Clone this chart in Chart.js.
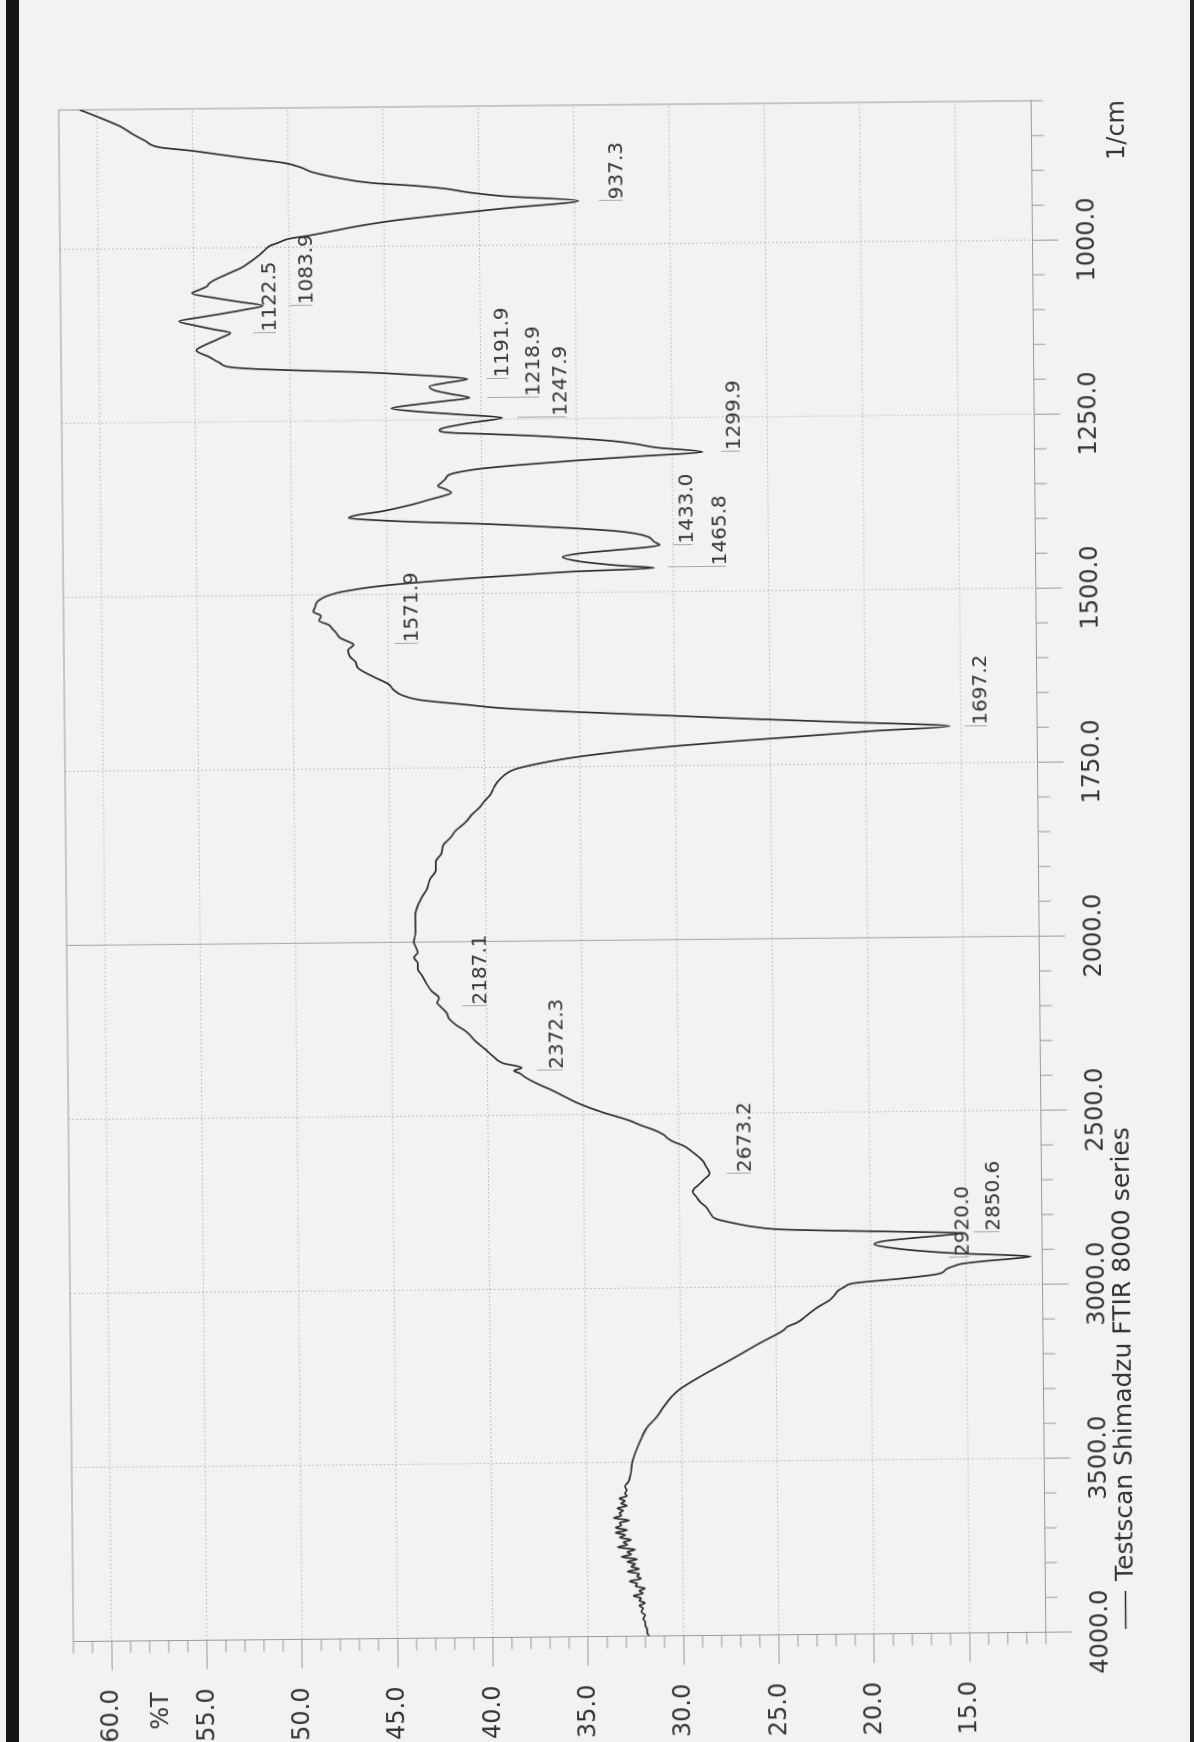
<!DOCTYPE html>
<html>
<head>
<meta charset="utf-8">
<title>FTIR spectrum</title>
<script src="https://cdn.jsdelivr.net/npm/chart.js@4.4.1/dist/chart.umd.min.js"></script>
<style>
  html, body { margin: 0; padding: 0; width: 1194px; height: 1742px; overflow: hidden; background: #f2f2f2; }
  /* the sheet is printed landscape and viewed turned onto its side */
  #sheet { position: absolute; left: -274px; top: 274px; width: 1742px; height: 1194px;
           transform-origin: 50% 50%; transform: rotate(-90.55deg); }
  #sheet canvas { display: block; }
  #edgeL { position: absolute; left: 6px; top: 0; width: 13px; height: 1742px; background: #151515; }
  #edgeR { position: absolute; left: 1190px; top: 0; width: 4px; height: 1742px; background: #202020; }
</style>
</head>
<body>
<div id="sheet"><canvas id="ftir" width="1742" height="1194" style="width:1742px;height:1194px"></canvas></div>
<div id="edgeL"></div>
<div id="edgeR"></div>
<script>
// Wavenumber (1/cm) and transmittance (%T) of the trace, high to low wavenumber
const wavenumber = [
  4000, 3990, 3980, 3970, 3960, 3950, 3940, 3930, 3920, 3912,
  3905, 3898, 3891, 3884, 3877, 3870, 3863, 3856, 3849, 3842,
  3835, 3828, 3821, 3814, 3807, 3800, 3793, 3786, 3779, 3772,
  3765, 3758, 3751, 3744, 3737, 3730, 3723, 3716, 3709, 3702,
  3695, 3688, 3681, 3674, 3667, 3660, 3653, 3646, 3639, 3632,
  3625, 3618, 3611, 3604, 3597, 3590, 3580, 3570, 3555, 3536,
  3500, 3468, 3430, 3400, 3371, 3340, 3313, 3293, 3250, 3206,
  3160, 3125, 3115, 3104, 3080, 3060, 3041, 3025, 3012, 3003,
  2992, 2980, 2968, 2953, 2945, 2939, 2932, 2926, 2920.0, 2915,
  2910, 2900, 2890, 2881, 2872, 2864, 2857, 2850.6, 2846, 2841,
  2836, 2828, 2818, 2803, 2785, 2769, 2755, 2740, 2725, 2715,
  2706, 2690, 2673.2, 2660, 2652, 2640, 2628, 2610, 2594, 2580,
  2570, 2560, 2546, 2532, 2518, 2494, 2469, 2450, 2430, 2410,
  2392, 2380, 2372.3, 2364, 2350, 2330, 2310, 2287, 2258, 2240,
  2220, 2205, 2187.1, 2175, 2162, 2140, 2115, 2095, 2077, 2060,
  2044, 2030, 2014, 2000, 1986, 1962, 1938, 1925, 1909, 1897,
  1885, 1873, 1861, 1850, 1842, 1828, 1818, 1808, 1798, 1789,
  1778, 1770, 1760, 1753, 1746, 1738, 1730, 1722, 1716, 1710,
  1703, 1697.2, 1690, 1684, 1678, 1672, 1665, 1660, 1652, 1645,
  1638, 1629, 1618, 1605, 1597, 1589, 1580, 1571.9, 1566, 1562,
  1555, 1549, 1543, 1537, 1530, 1524, 1517, 1510, 1503, 1497,
  1494, 1490, 1486, 1482, 1478, 1474, 1470, 1465.8, 1462, 1458,
  1455, 1449, 1444, 1440, 1436, 1433.0, 1428, 1421, 1416, 1412,
  1407, 1403, 1400, 1397, 1393, 1390, 1386, 1381, 1376, 1371,
  1365, 1360, 1355, 1350, 1345, 1340, 1335, 1329, 1325, 1321,
  1316, 1310, 1305, 1299.9, 1293, 1287, 1283, 1278, 1274, 1271,
  1269, 1265, 1262, 1255, 1247.9, 1243, 1238, 1233, 1228, 1223,
  1218.9, 1213, 1208, 1202, 1197, 1191.9, 1188, 1185, 1182, 1180,
  1178, 1175, 1172, 1165, 1157, 1147, 1140, 1133, 1128, 1122.5,
  1117, 1111, 1105, 1100, 1095, 1089, 1083.9, 1078, 1072, 1065,
  1060, 1055, 1051, 1046, 1041, 1035, 1029, 1020, 1012, 1005,
  998, 993, 988, 983, 977, 971, 963, 956, 947, 937.3,
  930, 924, 918, 913, 909, 900, 892, 886, 879, 872,
  866, 860, 855, 845, 836, 824, 812, 802, 800
];
const transmittance = [
  31.8, 31.9, 31.9, 32.0, 32.0, 32.1, 32.0, 32.2, 32.1, 32.3,
  32.0, 32.3, 32.2, 32.6, 32.1, 32.3, 32.0, 32.5, 32.4, 32.8,
  32.2, 32.4, 32.3, 32.9, 32.3, 32.7, 32.5, 32.9, 32.4, 33.2,
  32.7, 32.9, 32.5, 33.4, 32.9, 33.1, 32.7, 33.3, 33.0, 33.5,
  32.9, 33.5, 33.2, 33.3, 32.8, 33.6, 33.2, 33.3, 33.1, 33.4,
  32.9, 33.2, 33.0, 33.3, 32.9, 33.0, 32.9, 33.0, 32.8, 32.7,
  32.6, 32.4, 32.1, 31.8, 31.3, 30.9, 30.5, 30.1, 28.8, 27.3,
  25.8, 24.6, 24.4, 23.9, 23.3, 22.8, 22.2, 21.9, 21.7, 21.4,
  20.9, 18.4, 16.5, 16.0, 15.6, 15.2, 14.0, 12.6, 11.6, 13.0,
  15.2, 17.6, 19.1, 19.8, 19.3, 17.8, 16.2, 15.1, 18.0, 21.5,
  24.5, 26.0, 27.0, 28.1, 28.4, 28.6, 28.9, 29.1, 29.3, 29.2,
  29.0, 28.7, 28.4, 28.5, 28.6, 28.7, 28.9, 29.3, 29.7, 30.3,
  30.6, 30.8, 31.3, 32.0, 32.6, 34.0, 35.2, 35.9, 36.6, 37.4,
  38.0, 38.3, 38.6, 38.2, 39.2, 39.7, 40.1, 40.6, 41.1, 41.6,
  42.0, 42.1, 42.4, 42.6, 42.5, 42.9, 43.2, 43.4, 43.6, 43.6,
  43.8, 43.6, 43.7, 43.8, 43.7, 43.7, 43.4, 43.1, 42.9, 42.6,
  42.6, 42.3, 42.2, 41.8, 41.6, 41.0, 40.7, 40.3, 40.0, 39.7,
  39.5, 39.3, 38.9, 38.4, 37.3, 35.6, 33.2, 30.0, 27.0, 23.5,
  19.6, 15.6, 21.0, 26.0, 30.4, 34.9, 39.1, 40.8, 43.4, 44.3,
  44.7, 45.0, 45.8, 46.6, 46.7, 47.0, 47.1, 46.8, 47.2, 47.5,
  47.7, 47.9, 48.1, 48.6, 48.5, 48.9, 48.8, 48.7, 48.3, 47.6,
  47.0, 46.0, 44.6, 42.7, 40.6, 38.0, 35.3, 31.0, 32.8, 34.2,
  35.0, 35.8, 34.9, 33.2, 31.4, 30.7, 31.0, 31.3, 32.0, 33.1,
  35.6, 38.0, 40.1, 43.0, 45.8, 47.0, 46.6, 45.3, 44.4, 43.6,
  42.8, 42.1, 41.6, 41.9, 42.3, 42.1, 41.9, 41.7, 41.1, 40.1,
  38.0, 34.8, 31.6, 28.4, 30.8, 32.0, 33.1, 35.3, 37.5, 39.8,
  41.5, 42.2, 42.0, 40.6, 38.9, 41.0, 43.3, 44.7, 43.5, 41.8,
  40.6, 41.6, 42.4, 42.7, 41.8, 40.7, 42.0, 43.6, 45.3, 46.8,
  48.8, 51.5, 53.0, 53.7, 54.2, 54.9, 54.5, 53.9, 53.5, 53.1,
  54.0, 55.0, 55.8, 54.8, 53.6, 52.3, 51.4, 52.6, 53.9, 55.1,
  54.7, 54.3, 54.2, 53.9, 53.5, 53.0, 52.5, 52.0, 51.6, 51.3,
  51.0, 50.5, 50.0, 48.8, 47.6, 46.4, 44.4, 42.0, 38.6, 34.8,
  38.6, 40.5, 41.8, 43.6, 45.6, 47.6, 48.8, 49.3, 50.2, 52.1,
  53.6, 55.1, 56.7, 57.5, 58.1, 58.8, 59.8, 60.7, 60.9
];

// Picked peaks
const peakWavenumber = [937.3, 1083.9, 1122.5, 1191.9, 1218.9, 1247.9, 1299.9, 1433.0,
                        1465.8, 1571.9, 1697.2, 2187.1, 2372.3, 2673.2, 2850.6, 2920.0];

// Axis ticks
const waveMajor = [4000, 3500, 3000, 2500, 2000, 1750, 1500, 1250, 1000];
const transMajor = [15, 20, 25, 30, 35, 40, 45, 50, 55, 60];

// Where each peak tag sits, in %T: [top of its leader, top of its digits]
const peakTagPlacement = [
  [33.7, 33.25], [50.0, 49.55], [51.9, 51.5], [39.7, 39.35], [39.65, 37.7], [38.1, 36.3],
  [27.45, 27.2], [30.0, 29.75], [30.25, 28.0], [44.65, 44.2], [14.8, 14.4], [41.3, 40.8],
  [37.4, 36.8], [27.5, 27.0], [14.6, 14.0], [15.9, 15.6]
];

// The printed wavenumber axis runs 4000-2000 at half the scale of 2000-800
function wavePos(w) { return w >= 2000 ? (4000 - w) / 2 : 1000 + (2000 - w); }
function posWave(p) { return p <= 1000 ? 4000 - 2 * p : 2000 - (p - 1000); }

const FONT = '"DejaVu Sans", "Liberation Sans", sans-serif';
const INK = '#343434';
const RULE = '#9a9a9a';

const sheetDecor = {
  id: 'sheetDecor',
  beforeDatasetsDraw(chart) {
    const { ctx, chartArea: a, scales: { x, y } } = chart;
    const seg = (x1, y1, x2, y2) => { ctx.beginPath(); ctx.moveTo(x1, y1); ctx.lineTo(x2, y2); ctx.stroke(); };
    ctx.save();
    ctx.lineWidth = 1;
    ctx.strokeStyle = '#b2b2b2';
    ctx.setLineDash([1.5, 2.5]);
    transMajor.forEach(t => {
      const py = y.getPixelForValue(t);
      seg(a.left, py, a.right, py);
    });
    waveMajor.forEach(w => {
      if (w === 4000 || w === 2000) return;
      const px = x.getPixelForValue(wavePos(w));
      seg(px, a.top, px, a.bottom);
    });
    ctx.setLineDash([]);
    // scale change at 2000 is marked by a solid rule
    ctx.strokeStyle = '#a4a4a4';
    const p2000 = x.getPixelForValue(wavePos(2000));
    seg(p2000, a.top, p2000, a.bottom);
    // frame on the two open sides
    ctx.strokeStyle = RULE;
    seg(a.left, a.top, a.right, a.top);
    seg(a.right, a.top, a.right, a.bottom);
    ctx.restore();
  },
  afterDraw(chart) {
    const { ctx, chartArea: a, scales: { x, y } } = chart;
    const seg = (x1, y1, x2, y2) => { ctx.beginPath(); ctx.moveTo(x1, y1); ctx.lineTo(x2, y2); ctx.stroke(); };
    ctx.save();
    ctx.lineWidth = 1;
    ctx.strokeStyle = RULE;
    // minor ticks: every 1 %T and every 50 units of the printed wavenumber scale
    for (let t = 11; t <= 62; t++) {
      if (t % 5 === 0) continue;
      const py = y.getPixelForValue(t);
      seg(a.left, py, a.left - 12, py);
    }
    const majorPos = waveMajor.map(wavePos);
    for (let p = 0; p <= 2200; p += 50) {
      if (majorPos.includes(p)) continue;
      const px = x.getPixelForValue(p);
      seg(px, a.bottom, px, a.bottom + 12);
    }

    // peak tags
    ctx.font = '20px ' + FONT;
    ctx.textAlign = 'left';
    ctx.textBaseline = 'alphabetic';
    peakWavenumber.forEach((w, i) => {
      const [leadTop, textTop] = peakTagPlacement[i];
      const px = Math.round(x.getPixelForValue(wavePos(w))) + 0.5;
      const base = y.getPixelForValue(textTop) + 14.6;
      ctx.strokeStyle = '#a8a8a8';
      seg(px, y.getPixelForValue(leadTop), px, base);
      ctx.fillStyle = INK;
      ctx.fillText(w.toFixed(1), px + 1, base);
    });

    // axis captions
    ctx.fillStyle = INK;
    ctx.font = '24px ' + FONT;
    ctx.textAlign = 'right';
    ctx.textBaseline = 'middle';
    ctx.fillText('%T', 54, y.getPixelForValue(57.4));

    ctx.textBaseline = 'alphabetic';
    ctx.fillText('1/cm', a.right, a.bottom + 92.5);

    // trace key
    ctx.strokeStyle = '#2c2c2c';
    ctx.lineWidth = 1.6;
    seg(a.left + 2.5, a.bottom + 80, a.left + 40.5, a.bottom + 80);
    ctx.font = '25px ' + FONT;
    ctx.textAlign = 'left';
    ctx.fillText('Testscan Shimadzu FTIR 8000 series', a.left + 50.5, a.bottom + 87.5);
    ctx.restore();
  }
};

new Chart(document.getElementById('ftir'), {
  type: 'line',
  data: {
    datasets: [{
      label: 'Testscan Shimadzu FTIR 8000 series',
      data: wavenumber.map((w, i) => ({ x: wavePos(w), y: transmittance[i] })),
      borderColor: '#2c2c2c',
      borderWidth: 1.7,
      pointRadius: 0,
      cubicInterpolationMode: 'monotone',
      fill: false
    }]
  },
  options: {
    responsive: false,
    animation: false,
    devicePixelRatio: 1,
    layout: { padding: { top: 66, right: 105, bottom: 0, left: 0 } },
    plugins: { legend: { display: false }, tooltip: { enabled: false } },
    scales: {
      x: {
        type: 'linear', position: 'bottom', min: 0, max: 2200,
        afterBuildTicks: s => { s.ticks = waveMajor.map(w => ({ value: wavePos(w) })); },
        afterFit: s => { s.height = 155.5; },
        ticks: {
          callback: v => posWave(v).toFixed(1),
          autoSkip: false, maxRotation: 0, minRotation: 0, padding: 17.7,
          color: INK, font: { family: FONT, size: 24, lineHeight: 1 }
        },
        grid: { drawOnChartArea: false, drawTicks: true, tickLength: 26, tickColor: RULE, tickWidth: 1 },
        border: { display: true, color: RULE, width: 1 }
      },
      y: {
        type: 'linear', position: 'left', min: 11, max: 62,
        afterBuildTicks: s => { s.ticks = transMajor.map(v => ({ value: v })); },
        afterFit: s => { s.width = 105.5; },
        ticks: {
          callback: v => Number(v).toFixed(1),
          autoSkip: false, padding: 19,
          color: INK, font: { family: FONT, size: 24, lineHeight: 1 }
        },
        grid: { drawOnChartArea: false, drawTicks: true, tickLength: 29, tickColor: RULE, tickWidth: 1 },
        border: { display: true, color: RULE, width: 1 }
      }
    }
  },
  plugins: [sheetDecor]
});
</script>
</body>
</html>
